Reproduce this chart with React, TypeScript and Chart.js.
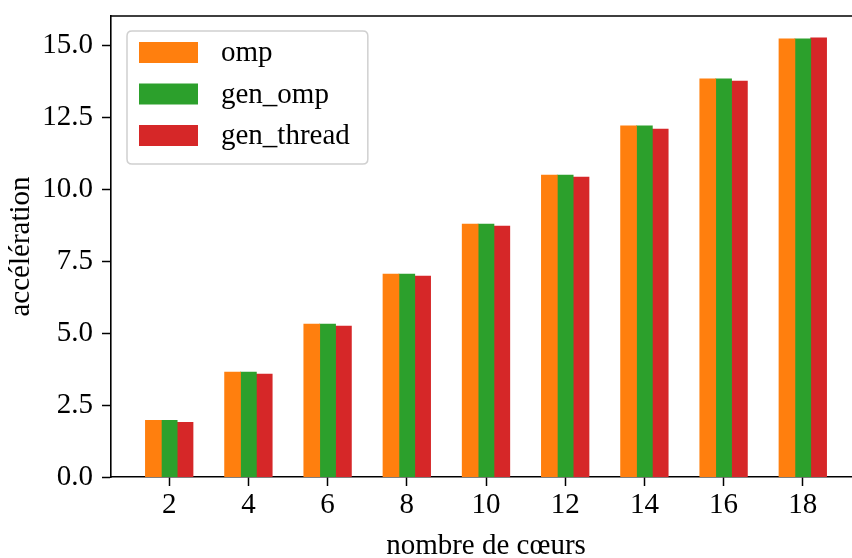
import React, { useEffect, useRef } from "react";
import { Chart, registerables } from "chart.js";

Chart.register(...registerables);

const CORES = [2, 4, 6, 8, 10, 12, 14, 16, 18];
const OMP = [1.97, 3.64, 5.31, 7.05, 8.79, 10.49, 12.2, 13.83, 15.22];
const GEN_OMP = [1.97, 3.64, 5.31, 7.05, 8.79, 10.49, 12.2, 13.83, 15.22];
const GEN_THREAD = [1.9, 3.57, 5.24, 6.98, 8.72, 10.42, 12.09, 13.76, 15.26];
const SERIES_LABELS = ["omp", "gen_omp", "gen_thread"];
const SERIES_COLORS = ["#ff7f0e", "#2ca02c", "#d62728"];
const X_TICKS = [2, 4, 6, 8, 10, 12, 14, 16, 18];
const Y_TICKS = [0, 2.5, 5, 7.5, 10, 12.5, 15];
const X_MIN = 0.53;
const X_MAX = 19.47;
const Y_MIN = 0;
const Y_MAX = 16.02;

const FONT = "'Liberation Serif', 'Times New Roman', serif";
const FS = 29;

const frameLegend = {
  id: "frameLegend",
  afterDraw(chart: any) {
    const { ctx, chartArea } = chart;
    const { left, right, top } = chartArea;
    ctx.save();
    // top and right spines
    ctx.strokeStyle = "#000";
    ctx.lineWidth = 1.6;
    ctx.beginPath();
    ctx.moveTo(left, top);
    ctx.lineTo(right, top);
    ctx.lineTo(right, chartArea.bottom);
    ctx.stroke();

    // legend
    ctx.font = `${FS}px ${FONT}`;
    const ds = chart.data.datasets;
    let maxW = 0;
    ds.forEach((d: any) => {
      maxW = Math.max(maxW, ctx.measureText(d.label).width);
    });
    const lx = left + 16;
    const ly = top + 15;
    const patchX = lx + 12;
    const patchW = 59;
    const patchH = 21;
    const textX = patchX + 82;
    const rowGap = 41.5;
    const w = textX - lx + maxW + 18;
    const h = 133;
    const r = 5;
    ctx.beginPath();
    ctx.moveTo(lx + r, ly);
    ctx.lineTo(lx + w - r, ly);
    ctx.quadraticCurveTo(lx + w, ly, lx + w, ly + r);
    ctx.lineTo(lx + w, ly + h - r);
    ctx.quadraticCurveTo(lx + w, ly + h, lx + w - r, ly + h);
    ctx.lineTo(lx + r, ly + h);
    ctx.quadraticCurveTo(lx, ly + h, lx, ly + h - r);
    ctx.lineTo(lx, ly + r);
    ctx.quadraticCurveTo(lx, ly, lx + r, ly);
    ctx.closePath();
    ctx.fillStyle = "rgba(255,255,255,0.8)";
    ctx.fill();
    ctx.strokeStyle = "#d0d0d0";
    ctx.lineWidth = 1.5;
    ctx.stroke();

    ds.forEach((d: any, i: number) => {
      const cy = ly + 21.5 + i * rowGap;
      ctx.fillStyle = d.backgroundColor;
      ctx.fillRect(patchX, cy - patchH / 2, patchW, patchH);
      ctx.fillStyle = "#000";
      ctx.textBaseline = "middle";
      ctx.textAlign = "left";
      ctx.fillText(d.label, textX, cy + 1);
    });
    ctx.restore();
  },
};

export default function App() {
  const ref = useRef<HTMLCanvasElement>(null);

  useEffect(() => {
    if (!ref.current) return;
    const seriesValues = [OMP, GEN_OMP, GEN_THREAD];
    const chart = new Chart(ref.current, {
      type: "bar",
      data: {
        datasets: seriesValues.map((vals, si) => ({
          label: SERIES_LABELS[si],
          data: CORES.map((c, i) => ({ x: c, y: vals[i] })),
          backgroundColor: SERIES_COLORS[si],
          borderWidth: 0,
          inflateAmount: 0.4,
          categoryPercentage: 0.6,
          barPercentage: 1.0,
        })),
      },
      options: {
        animation: false,
        responsive: false,
        devicePixelRatio: 1,
        layout: { padding: { top: 16, right: 19, left: 0, bottom: 0 } },
        plugins: {
          legend: { display: false },
          tooltip: { enabled: false },
        },
        scales: {
          x: {
            type: "linear",
            min: X_MIN,
            max: X_MAX,
            offset: false,
            afterFit: (s: any) => {
              s.height = 81;
              s.paddingLeft = 0;
              s.paddingRight = 0;
            },
            afterBuildTicks: (s: any) => {
              s.ticks = X_TICKS.map((v) => ({ value: v }));
            },
            grid: {
              offset: false,
              drawOnChartArea: false,
              drawTicks: true,
              tickLength: 9,
              tickWidth: 1.5,
              tickColor: "#000",
            },
            border: { display: true, color: "#000", width: 1.6 },
            ticks: {
              color: "#000",
              padding: 2,
              maxRotation: 0,
              font: { family: FONT, size: FS, lineHeight: 1.2 },
              callback: (v: any) => String(v),
            },
            title: {
              display: true,
              text: "nombre de cœurs",
              color: "#000",
              font: { family: FONT, size: FS, lineHeight: 0.8 },
              padding: { top: 0, bottom: 0 },
            },
          },
          y: {
            type: "linear",
            min: Y_MIN,
            max: Y_MAX,
            afterFit: (s: any) => {
              s.width = 111;
              s.paddingTop = 0;
              s.paddingBottom = 0;
            },
            afterBuildTicks: (s: any) => {
              s.ticks = Y_TICKS.map((v) => ({ value: v }));
            },
            grid: {
              drawOnChartArea: false,
              drawTicks: true,
              tickLength: 9,
              tickWidth: 1.5,
              tickColor: "#000",
            },
            border: { display: true, color: "#000", width: 1.6 },
            ticks: {
              color: "#000",
              padding: 9,
              font: { family: FONT, size: FS, lineHeight: 1.2 },
              callback: (v: any) => Number(v).toFixed(1),
            },
            title: {
              display: true,
              text: "accélération",
              color: "#000",
              font: { family: FONT, size: FS, lineHeight: 1 },
              padding: { top: 7, bottom: 0 },
            },
          },
        },
      },
      plugins: [frameLegend],
    });
    return () => chart.destroy();
  }, []);

  return (
    <div
      style={{
        position: "absolute",
        left: 0,
        top: 0,
        width: 852,
        height: 558,
        overflow: "hidden",
        background: "#fff",
      }}
    >
      <canvas
        ref={ref}
        width={880}
        height={558}
        style={{ width: 880, height: 558, display: "block" }}
      />
    </div>
  );
}
